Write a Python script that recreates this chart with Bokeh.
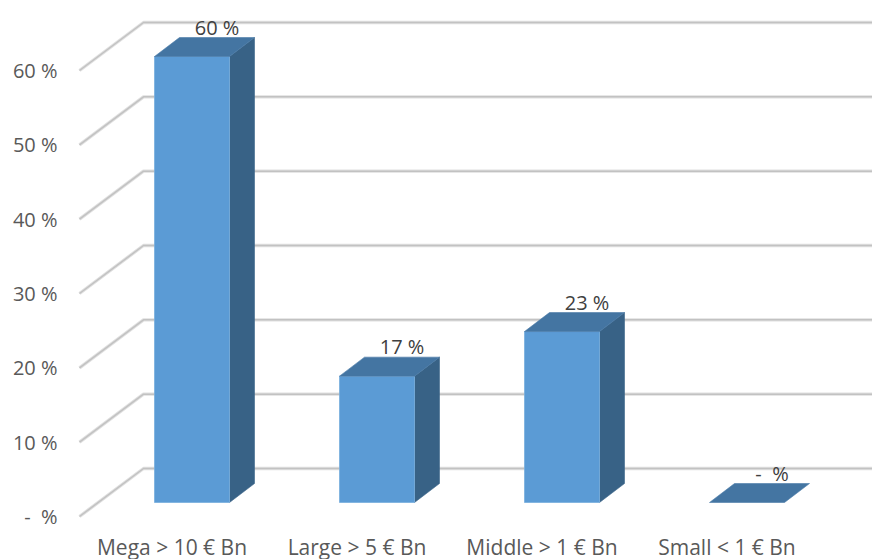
from bokeh.plotting import figure
from bokeh.models import Range1d, FixedTicker
from bokeh.embed import file_html
from bokeh.resources import INLINE
from bokeh.core.properties import value

# Share of deals by company size
categories = ["Mega > 10 € Bn", "Large > 5 € Bn", "Middle > 1 € Bn", "Small < 1 € Bn"]
shares = [60, 17, 23, 0]
y_ticks = [0, 10, 20, 30, 40, 50, 60]
ZERO_LABEL = "-\u00a0 %"       # accounting-style zero, non-breaking so SVG keeps the gap
y_tick_labels = [ZERO_LABEL, "10 %", "20 %", "30 %", "40 %", "50 %", "60 %"]

# --- layout constants (pixels) ---
W, H = 872, 559
FRAME_LEFT = 65
FRAME_H = 522
PX_PER_PCT = 446 / 60          # vertical scale
PX_PER_CAT = 185               # spacing between bar centres
FIRST_CENTER_PX = 191.5        # first bar centre, canvas x
FLOOR_FRONT_PX = 516           # canvas y of 0 % on the front edge
BAR_W_PX = 75
DEPTH_X_PX, DEPTH_Y_PX = 25, 19
BAR_LIFT_PX = 14               # bar front sits this far behind the front edge
WALL_DX_PX, WALL_DY_PX = 64, 48
WALL_FRONT_X_PX = 79
LABEL_GAP_PX = -3              # offset of the label box bottom from the bar top

ux = 1 / PX_PER_CAT
uy = 1 / PX_PER_PCT

x0 = (FRAME_LEFT - FIRST_CENTER_PX) * ux
x1 = (W - FIRST_CENTER_PX) * ux
y0 = -(FRAME_H - FLOOR_FRONT_PX) * uy
y1 = FLOOR_FRONT_PX * uy

p = figure(
    width=W, height=H,
    frame_width=W - FRAME_LEFT, frame_height=FRAME_H,
    x_range=Range1d(x0, x1), y_range=Range1d(y0, y1),
    output_backend="svg", toolbar_location=None,
    min_border_left=FRAME_LEFT, min_border_right=0,
    min_border_top=0, min_border_bottom=H - FRAME_H,
)
p.outline_line_color = None
p.grid.visible = False
p.background_fill_color = "white"
p.border_fill_color = "white"

# --- back wall gridlines with their diagonal floor/side edge ---
wx_front = (WALL_FRONT_X_PX - FIRST_CENTER_PX) * ux
wx_back = wx_front + WALL_DX_PX * ux
for t in y_ticks:
    xs = [wx_front, wx_back, x1 + 1]
    ys = [t, t + WALL_DY_PX * uy, t + WALL_DY_PX * uy]
    p.line(xs, ys, line_color="#E0E0E0", line_width=3.4)
    p.line(xs, ys, line_color="#C2C2C2", line_width=1.5)

# --- 3D bars ---
hw = BAR_W_PX * ux / 2
dx = DEPTH_X_PX * ux
dy = DEPTH_Y_PX * uy
base = BAR_LIFT_PX * uy

front_xs, front_ys, top_xs, top_ys, side_xs, side_ys = [], [], [], [], [], []
for i, v in enumerate(shares):
    l, r = i - hw, i + hw
    b, t = base, base + v
    if v > 0:
        front_xs.append([l, r, r, l])
        front_ys.append([b, b, t, t])
        side_xs.append([r, r + dx, r + dx, r])
        side_ys.append([b, b + dy, t + dy, t])
    top_xs.append([l, r, r + dx, l + dx])
    top_ys.append([t, t, t + dy, t + dy])

p.patches(side_xs, side_ys, fill_color="#386286", line_color="#3A6489", line_width=0.6)
p.patches(front_xs, front_ys, fill_color="#5B9BD5", line_color="#79AEDD", line_width=0.8)
p.patches(top_xs, top_ys, fill_color="#4475A2", line_color="#4A7BA7", line_width=0.6)

# --- value labels above each bar ---
label_x = [i + dx for i in range(len(shares))]
label_y = [base + v + dy + LABEL_GAP_PX * uy for v in shares]
label_txt = [f"{v:.0f} %" if v else ZERO_LABEL for v in shares]
p.text(label_x, label_y, text=label_txt, text_align="center", text_baseline="bottom",
       text_font=value("Open Sans"), text_font_size="20px", text_color="#404040")

# --- axes ---
p.yaxis.ticker = FixedTicker(ticks=y_ticks)
p.yaxis.major_label_overrides = {t: s for t, s in zip(y_ticks, y_tick_labels)}
p.yaxis.axis_line_color = None
p.yaxis.major_tick_line_color = None
p.yaxis.minor_tick_line_color = None
p.yaxis.major_tick_out = 0
p.yaxis.major_tick_in = 0
p.yaxis.major_label_standoff = 8
p.yaxis.major_label_text_font = "Open Sans"
p.yaxis.major_label_text_font_size = "20px"
p.yaxis.major_label_text_color = "#595959"

cat_offset = 20 * ux
cat_ticks = [i - cat_offset for i in range(len(categories))]
p.xaxis.ticker = FixedTicker(ticks=cat_ticks)
p.xaxis.major_label_overrides = {t: c for t, c in zip(cat_ticks, categories)}
p.xaxis.axis_line_color = None
p.xaxis.major_tick_line_color = None
p.xaxis.minor_tick_line_color = None
p.xaxis.major_tick_out = 0
p.xaxis.major_tick_in = 0
p.xaxis.major_label_standoff = 10
p.xaxis.major_label_text_font = "Open Sans"
p.xaxis.major_label_text_font_size = "21px"
p.xaxis.major_label_text_color = "#595959"

open("out.html", "w").write(file_html(p, INLINE))
